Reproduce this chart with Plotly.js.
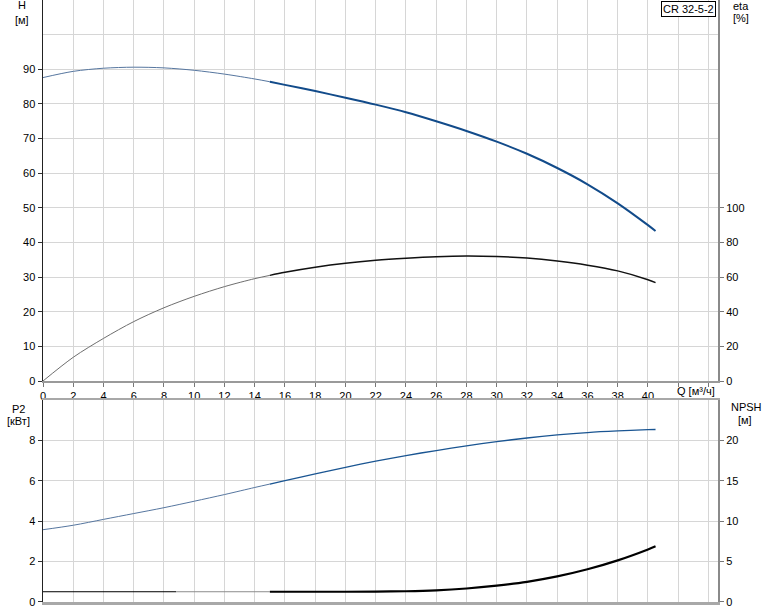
<!DOCTYPE html>
<html>
<head>
<meta charset="utf-8">
<script src="https://cdn.plot.ly/plotly-3.0.1.min.js"></script>
<style>html,body{margin:0;padding:0;background:#fff;}#chart{width:774px;height:611px;}</style>
</head>
<body>
<div id="chart"></div>
<script>
// Flow rate Q [m3/h]
const Q = [0,2,4,6,8,10,12,14,15,16,18,20,22,24,26,28,30,32,34,36,38,40,40.5];
// Head H [m]
const H = [87.6,89.4,90.3,90.6,90.4,89.7,88.6,87.2,86.4,85.5,83.7,81.8,79.8,77.6,75.0,72.2,69.1,65.6,61.5,56.8,51.3,45.0,43.3];
// Efficiency eta [%]
const ETA = [0,13.7,24.6,34.3,42.3,48.9,54.5,59.1,61.0,62.8,65.7,68.0,69.7,70.9,71.8,72.2,71.9,71.0,69.3,66.9,63.6,58.5,56.8];
// Power P2 [kW]
const P2 = [3.58,3.8,4.09,4.38,4.67,4.99,5.32,5.67,5.84,6.01,6.34,6.67,6.97,7.25,7.5,7.73,7.94,8.12,8.27,8.39,8.47,8.53,8.54];
// NPSH [m]
const NPSH_Q = [0,8.8,15,20,22,24,26,28,30,32,34,36,38,40,40.5];
const NPSH = [1.27,1.27,1.27,1.27,1.29,1.33,1.44,1.67,2.03,2.5,3.17,4.05,5.15,6.5,6.89];

const xTicks = [0,2,4,6,8,10,12,14,16,18,20,22,24,26,28,30,32,34,36,38,40,42,44];
const xTickText = xTicks.map(v => v <= 40 ? String(v) : '');
const hTicks = [0,10,20,30,40,50,60,70,80,90];
const etaTicks = [0,20,40,60,80,100];
const p2Ticks = [0,2,4,6,8];
const npshTicks = [0,5,10,15,20];

const SPLIT = 15;
function part(xs, ys, lo, hi) {
  const ox = [], oy = [];
  xs.forEach((x, i) => { if (x >= lo && x <= hi) { ox.push(x); oy.push(ys[i]); } });
  return {x: ox, y: oy};
}
function seg(xs, ys, lo, hi, color, width, xa, ya) {
  const p = part(xs, ys, lo, hi);
  return {x: p.x, y: p.y, type: 'scatter', mode: 'lines', xaxis: xa, yaxis: ya,
          line: {color: color, width: width, shape: 'spline', smoothing: 0.9}, hoverinfo: 'skip'};
}

const BLUE = '#124b8a';
const traces = [
  seg(Q, H, 0, SPLIT, '#56769f', 1, 'x', 'y'),
  seg(Q, H, SPLIT, 99, BLUE, 2, 'x', 'y'),
  seg(Q, ETA, 0, SPLIT, '#6e6e6e', 1, 'x', 'y2'),
  seg(Q, ETA, SPLIT, 99, '#111111', 1.5, 'x', 'y2'),
  seg(Q, P2, 0, SPLIT, '#56769f', 1, 'x2', 'y3'),
  seg(Q, P2, SPLIT, 99, '#1a5592', 1.3, 'x2', 'y3'),
  seg(NPSH_Q, NPSH, 0, 8.8, '#000000', 1, 'x2', 'y4'),
  seg(NPSH_Q, NPSH, 8.8, SPLIT, '#8c8c8c', 1, 'x2', 'y4'),
  seg(NPSH_Q, NPSH, SPLIT, 99, '#000000', 2.2, 'x2', 'y4')
];

const FONT = {family: 'Liberation Sans, Arial, sans-serif', size: 11, color: '#000'};
const GRID = '#d6d6d6';
const W = 675, PH = 602, L = 43;
const px = v => (v - L) / W;
const py = v => (PH - v) / PH;

const layout = {
  width: 774, height: 611,
  margin: {l: 43, r: 56, t: 0, b: 9},
  paper_bgcolor: '#fff', plot_bgcolor: '#fff',
  showlegend: false,
  font: FONT,
  xaxis: {domain: [0, 1], anchor: 'y', range: [0, 44.63], tickmode: 'array', tickvals: xTicks, ticktext: xTickText,
          showgrid: true, gridcolor: GRID, gridwidth: 1, zeroline: false, ticks: 'outside', ticklen: 4, tickcolor: '#777',
          showline: true, linecolor: '#9a9a9a', linewidth: 2, tickfont: FONT},
  yaxis: {domain: [0.3671, 1], anchor: 'x', range: [0, 110], tickmode: 'array', tickvals: hTicks,
          showgrid: true, gridcolor: GRID, zeroline: false, ticks: 'outside', ticklen: 4, tickcolor: '#333',
          showline: true, linecolor: '#222', linewidth: 1.5, tickfont: FONT,
          minor: {tickmode: 'array', tickvals: [100], showgrid: true, gridcolor: GRID, ticks: ''}},
  yaxis2: {overlaying: 'y', side: 'right', anchor: 'x', range: [0, 220], tickmode: 'array', tickvals: etaTicks,
           showgrid: false, zeroline: false, ticks: 'outside', ticklen: 4, tickcolor: '#777',
           showline: true, linecolor: '#8a8a8a', linewidth: 2, tickfont: FONT},
  xaxis2: {domain: [0, 1], anchor: 'y3', matches: 'x', range: [0, 44.63], tickmode: 'array', tickvals: xTicks,
           showticklabels: false, showgrid: true, gridcolor: GRID, zeroline: false, ticks: '',
           showline: true, mirror: true, linecolor: '#a8a8a8', linewidth: 2.5},
  yaxis3: {domain: [0, 0.3355], anchor: 'x2', range: [0, 10], tickmode: 'array', tickvals: p2Ticks,
           showgrid: true, gridcolor: GRID, zeroline: false, ticks: 'outside', ticklen: 4, tickcolor: '#333',
           showline: true, linecolor: '#222', linewidth: 1.5, tickfont: FONT},
  yaxis4: {overlaying: 'y3', side: 'right', anchor: 'x2', range: [0, 25], tickmode: 'array', tickvals: npshTicks,
           showgrid: false, zeroline: false, ticks: 'outside', ticklen: 4, tickcolor: '#777',
           showline: true, linecolor: '#8a8a8a', linewidth: 2, tickfont: FONT},
  annotations: [
    {text: 'H', xref: 'paper', yref: 'paper', x: px(22), y: py(5), showarrow: false, font: FONT, xanchor: 'center', yanchor: 'middle'},
    {text: '[м]', xref: 'paper', yref: 'paper', x: px(22), y: py(20), showarrow: false, font: FONT, xanchor: 'center', yanchor: 'middle'},
    {text: 'eta', xref: 'paper', yref: 'paper', x: px(741), y: py(6), showarrow: false, font: FONT, xanchor: 'center', yanchor: 'middle'},
    {text: '[%]', xref: 'paper', yref: 'paper', x: px(741), y: py(18), showarrow: false, font: FONT, xanchor: 'center', yanchor: 'middle'},
    {text: 'P2', xref: 'paper', yref: 'paper', x: px(18), y: py(409), showarrow: false, font: FONT, xanchor: 'center', yanchor: 'middle'},
    {text: '[кВт]', xref: 'paper', yref: 'paper', x: px(18), y: py(421), showarrow: false, font: FONT, xanchor: 'center', yanchor: 'middle'},
    {text: 'NPSH', xref: 'paper', yref: 'paper', x: px(746), y: py(407), showarrow: false, font: FONT, xanchor: 'center', yanchor: 'middle'},
    {text: '[м]', xref: 'paper', yref: 'paper', x: px(745), y: py(420), showarrow: false, font: FONT, xanchor: 'center', yanchor: 'middle'},
    {text: 'Q [м³/ч]', xref: 'x', yref: 'paper', x: 42, y: py(391), showarrow: false, font: FONT, xanchor: 'left', yanchor: 'middle', xshift: -3},
    {text: 'CR 32-5-2', xref: 'paper', yref: 'paper', x: px(716), y: py(1), showarrow: false, font: FONT,
     xanchor: 'right', yanchor: 'top', bordercolor: '#000', borderwidth: 1, borderpad: 1, bgcolor: '#fff'}
  ]
};

Plotly.newPlot('chart', traces, layout, {staticPlot: true, displayModeBar: false});
</script>
</body>
</html>
